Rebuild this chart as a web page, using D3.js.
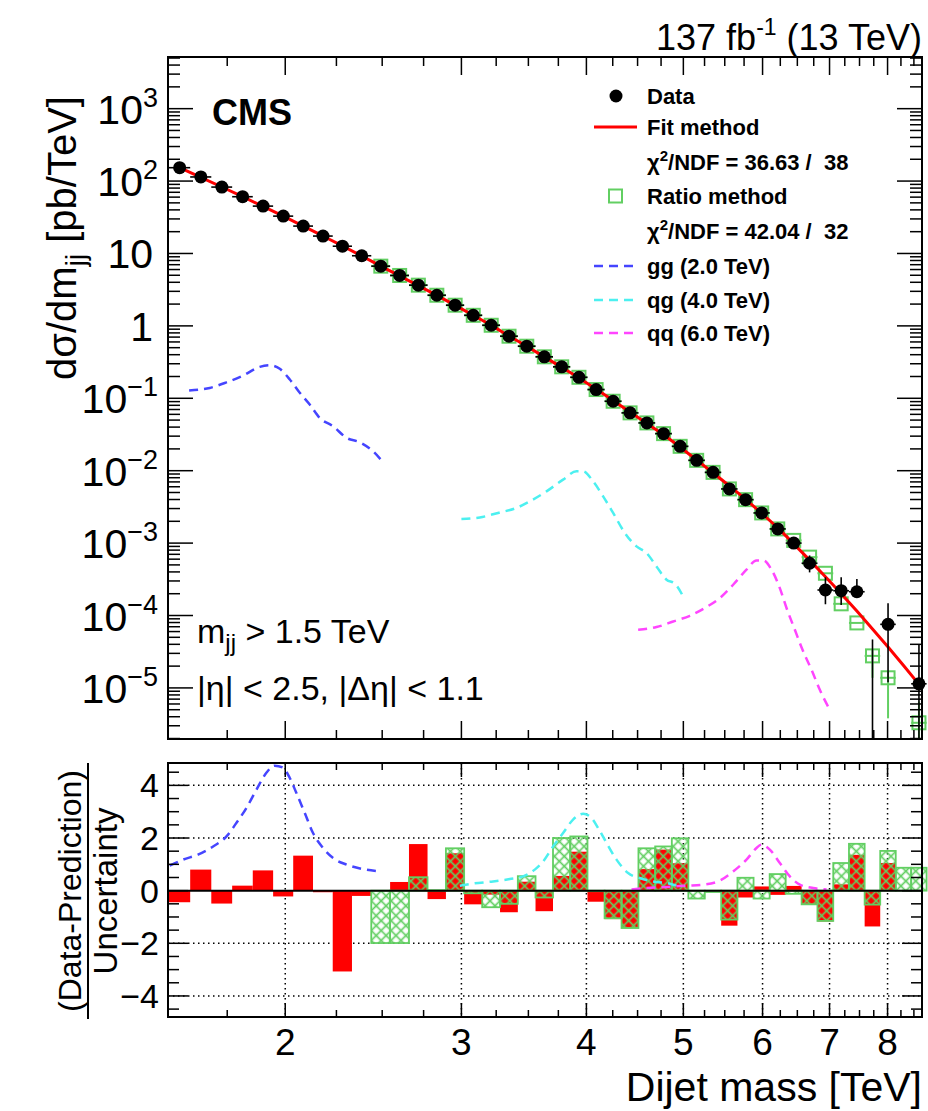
<!DOCTYPE html>
<html>
<head>
<meta charset="utf-8">
<script src="https://cdn.jsdelivr.net/npm/d3@7"></script>
<style>
  body { margin: 0; background: #fff; }
  text { font-family: "Liberation Sans", Arial, Helvetica, sans-serif; fill: #000; white-space: pre; }
</style>
</head>
<body>
<div id="chart"></div>
<script>
// dijet mass bin edges [TeV]
const binEdges = [1.530,1.607,1.687,1.770,1.856,1.945,2.037,2.132,2.231,2.332,2.438,2.546,2.659,2.775,2.895,3.019,3.147,3.279,3.416,3.558,3.704,3.854,4.010,4.171,4.337,4.509,4.686,4.869,5.058,5.253,5.455,5.663,5.877,6.099,6.328,6.564,6.808,7.060,7.320,7.589,7.866,8.152,8.447,8.752]

// data points, pb/TeV (null = no point)
const dataVals = [153,114,82.6,60.8,45.1,32.8,23.9,17.4,12.6,9.30,6.68,4.97,3.65,2.65,1.93,1.40,1.02,0.72,0.524,0.374,0.272,0.195,0.132,0.091,0.0629,0.0457,0.0325,0.0217,0.0139,0.00948,0.0056,0.00398,0.00261,0.00157,0.00100,5.27e-4,2.25e-4,2.20e-4,2.13e-4,null,7.55e-5,null,1.14e-5]
// vertical error bar ends (null = hidden under marker, 0 = down to axis)
const dataErrUp = [null,null,null,null,null,null,null,null,null,null,null,null,null,null,null,null,null,null,null,null,null,null,null,null,null,null,null,null,null,null,null,null,null,null,null,6.75e-4,3.37e-4,3.37e-4,3.19e-4,4.67e-5,1.48e-4,null,3.94e-5]
const dataErrDn = [null,null,null,null,null,null,null,null,null,null,null,null,null,null,null,null,null,null,null,null,null,null,null,null,null,null,null,null,null,null,null,null,null,null,null,3.94e-4,1.43e-4,1.40e-4,1.77e-4,0,1.2e-5,null,0]

// fit method prediction at bin centres
const fitVals = [153.1,112.7,82.8,60.8,44.7,32.7,23.9,17.4,12.7,9.23,6.70,4.90,3.60,2.64,1.92,1.40,1.016,0.726,0.522,0.373,0.267,0.191,0.134,0.0933,0.0646,0.0449,0.0313,0.0211,0.01406,0.00933,0.00617,0.00403,0.00258,0.00162,9.77e-4,5.82e-4,3.43e-4,2.00e-4,1.15e-4,6.53e-5,3.67e-5,2.04e-5,1.12e-5]

// ratio method prediction
const ratioVals = [null,null,null,null,null,null,null,null,null,null,6.68,4.97,3.65,2.65,1.93,1.40,1.02,0.72,0.524,0.374,0.272,0.195,0.132,0.091,0.0629,0.0457,0.0325,0.0217,0.0139,0.00948,0.0056,0.00398,0.00261,0.00157,0.00109,6.4e-4,3.83e-4,1.45e-4,7.9e-5,2.77e-5,1.38e-5,null,3.3e-6]
const ratioErrUp = [null,null,null,null,null,null,null,null,null,null,null,null,null,null,null,null,null,null,null,null,null,null,null,null,null,null,null,null,null,null,null,null,null,null,null,null,null,null,null,3.36e-5,1.7e-5,null,6.5e-6]
const ratioErrDn = [null,null,null,null,null,null,null,null,null,null,null,null,null,null,null,null,null,null,null,null,null,null,null,null,null,null,null,null,null,null,null,null,null,null,null,null,null,null,null,1.38e-5,3.8e-6,null,0]

// (data-prediction)/uncertainty
const fitPull = [-0.44,0.80,-0.49,0.19,0.77,-0.22,1.33,-0.06,-3.07,-0.20,0,0.33,1.77,-0.32,1.42,-0.52,-0.15,-0.82,0.34,-0.78,0.56,1.48,-0.42,-1.08,-1.40,0.82,1.56,1.04,0,0,-1.33,-0.26,0.16,-0.16,0.18,-0.50,-1.17,0.24,1.36,-1.36,1.05,0,0]
const ratioPull = [null,null,null,null,null,null,null,null,null,null,-1.99,-1.99,0.51,0.02,1.61,-0.10,-0.63,-0.50,0.55,-0.26,2.00,2.06,-0.02,-1.05,-1.42,1.61,1.68,1.99,-0.30,-0.05,-1.10,0.49,-0.30,0.63,-0.12,-0.52,-1.15,1.05,1.78,-0.53,1.51,0.87,0.87]

// signal shapes (upper panel)
const ggMass = [1.603,1.681,1.747,1.815,1.886,1.930,1.975,2.021,2.068,2.116,2.165,2.233,2.303,2.374,2.448,2.496]
const ggVals = [0.128,0.139,0.166,0.206,0.272,0.286,0.255,0.182,0.119,0.0819,0.0536,0.0410,0.0284,0.0247,0.0185,0.0139]
const qgMass = [3.000,3.130,3.264,3.405,3.511,3.649,3.791,3.910,3.970,4.062,4.157,4.254,4.370,4.489,4.594,4.700,4.810,4.903,4.998]
const qgVals = [2.15e-3,2.26e-3,2.61e-3,3.06e-3,3.77e-3,5.18e-3,7.52e-3,9.79e-3,9.79e-3,7.13e-3,4.42e-3,2.61e-3,1.38e-3,9.0e-4,7.29e-4,4.76e-4,3.12e-4,2.75e-4,1.83e-4]
const qqMass = [4.506,4.700,4.884,5.075,5.253,5.438,5.607,5.782,5.917,6.008,6.125,6.243,6.340,6.463,6.578,6.716,6.845,7.005]
const qqVals = [6.35e-5,6.92e-5,8.27e-5,9.91e-5,1.27e-4,1.74e-4,2.66e-4,4.29e-4,5.77e-4,5.77e-4,4.29e-4,2.39e-4,1.27e-4,6.35e-5,3.36e-5,1.78e-5,9.4e-6,4.97e-6]

// signal shapes (ratio panel)
const ggPullMass = [1.533,1.581,1.636,1.694,1.747,1.787,1.829,1.872,1.915,1.952,1.990,2.021,2.052,2.092,2.132,2.182,2.233,2.303,2.392,2.486]
const ggPull = [0.95,1.18,1.37,1.68,2.06,2.57,3.14,3.84,4.48,4.75,4.67,4.28,3.71,2.95,2.19,1.62,1.24,0.99,0.82,0.73]
const qgPullMass = [2.989,3.082,3.227,3.353,3.458,3.552,3.621,3.705,3.791,3.879,3.970,4.047,4.109,4.190,4.287,4.403,4.523,4.664,4.810,4.922]
const qgPull = [0.19,0.27,0.35,0.44,0.54,0.80,1.11,1.68,2.19,2.70,2.92,2.76,2.38,1.81,1.18,0.67,0.48,0.35,0.29,0.19]
const qqPullMass = [4.438,4.594,4.810,5.037,5.233,5.438,5.607,5.782,5.917,5.985,6.101,6.243,6.389,6.537,6.741,6.952]
const qqPull = [0.04,0.10,0.14,0.19,0.23,0.38,0.73,1.18,1.62,1.75,1.56,1.05,0.54,0.23,0.10,0.04]

// axis ticks
const xMajor = [2,3,4,5,6,7,8]
const xMinor = [1.75,2.25,2.5,2.75,3.25,3.5,3.75,4.25,4.5,4.75,5.25,5.5,5.75,6.25,6.5,6.75,7.25,7.5,7.75,8.25,8.5]
const yExps = [-5,-4,-3,-2,-1,0,1,2,3]
const pullMajor = [-4,-2,0,2,4]

const legendLabels = ["Data","Fit method","χ²/NDF = 36.63 /  38","Ratio method","χ²/NDF = 42.04 /  32","gg (2.0 TeV)","qg (4.0 TeV)","qq (6.0 TeV)"]

const cBlue = "#4545ff", cCyan = "#4cf0f0", cMag = "#ff45ff", cGreen = "#62cf62", cRed = "#ff0000"

const svg = d3.select("#chart").append("svg")
  .attr("width", 928).attr("height", 1111)
  .style("background", "#fff")

const defs = svg.append("defs")
const pat = defs.append("pattern").attr("id", "hatch")
  .attr("patternUnits", "userSpaceOnUse")
  .attr("width", 7).attr("height", 7)
  .attr("patternTransform", "rotate(45)")
pat.append("line").attr("x1", 3.5).attr("y1", 0).attr("x2", 3.5).attr("y2", 7)
  .attr("stroke", cGreen).attr("stroke-width", 1.7)
pat.append("line").attr("x1", 0).attr("y1", 3.5).attr("x2", 7).attr("y2", 3.5)
  .attr("stroke", cGreen).attr("stroke-width", 1.7)

const x = d3.scaleLog().domain([1.527, 8.66]).range([168, 922])
const y = d3.scaleLog().domain([1.97e-6, 5.17e3]).range([739, 57])
const yr = d3.scaleLinear().domain([-4.8, 4.85]).range([1017, 763])

defs.append("clipPath").attr("id", "clipTop").append("rect")
  .attr("x", 168).attr("y", 57).attr("width", 754).attr("height", 682)
defs.append("clipPath").attr("id", "clipBot").append("rect")
  .attr("x", 168).attr("y", 763).attr("width", 754).attr("height", 254)

const bins = d3.range(binEdges.length - 1).map(i => ({
  i: i, lo: binEdges[i], hi: binEdges[i+1], c: (binEdges[i] + binEdges[i+1]) / 2
}))
const yc = v => y(Math.max(v, 1.97e-6))

//////////////////////////////////////////////////////////////////////////
// upper panel

const upper = svg.append("g")
const sigLine = d3.line().x(d => x(d[0])).y(d => y(d[1])).curve(d3.curveMonotoneX)

const sig = upper.append("g").attr("clip-path", "url(#clipTop)").attr("fill", "none")
  .attr("stroke-width", 2.5).attr("stroke-dasharray", "9,6")
sig.append("path").attr("d", sigLine(d3.zip(ggMass, ggVals))).attr("stroke", cBlue)
sig.append("path").attr("d", sigLine(d3.zip(qgMass, qgVals))).attr("stroke", cCyan)
sig.append("path").attr("d", sigLine(d3.zip(qqMass, qqVals))).attr("stroke", cMag)

// ratio method squares
const rm = bins.filter(d => ratioVals[d.i] != null)
const gRm = upper.append("g").attr("stroke", cGreen).attr("stroke-width", 2)
gRm.selectAll("line.xe").data(rm).join("line")
  .attr("x1", d => x(d.lo)).attr("x2", d => x(d.hi))
  .attr("y1", d => y(ratioVals[d.i])).attr("y2", d => y(ratioVals[d.i]))
gRm.selectAll("line.ye").data(rm.filter(d => ratioErrUp[d.i] != null)).join("line")
  .attr("x1", d => x(d.c)).attr("x2", d => x(d.c))
  .attr("y1", d => yc(ratioErrUp[d.i])).attr("y2", d => yc(ratioErrDn[d.i]))
gRm.selectAll("rect").data(rm).join("rect")
  .attr("x", d => x(d.c) - 6.5).attr("y", d => y(ratioVals[d.i]) - 6.5)
  .attr("width", 13).attr("height", 13)
  .attr("fill", "#fff").attr("fill-opacity", 0)

// fit
upper.append("path")
  .attr("d", d3.line().x(d => x(d.c)).y(d => y(fitVals[d.i])).curve(d3.curveMonotoneX)(bins))
  .attr("fill", "none").attr("stroke", cRed).attr("stroke-width", 3)

// data
const gD = upper.append("g").attr("stroke", "#000").attr("stroke-width", 1.6)
gD.selectAll("line.ye").data(bins.filter(d => dataErrUp[d.i] != null)).join("line")
  .attr("x1", d => x(d.c)).attr("x2", d => x(d.c))
  .attr("y1", d => yc(dataErrUp[d.i])).attr("y2", d => yc(dataErrDn[d.i]))
const dp = bins.filter(d => dataVals[d.i] != null)
gD.selectAll("line.xe").data(dp).join("line")
  .attr("x1", d => x(d.lo)).attr("x2", d => x(d.hi))
  .attr("y1", d => y(dataVals[d.i])).attr("y2", d => y(dataVals[d.i]))
upper.append("g").selectAll("circle").data(dp).join("circle")
  .attr("cx", d => x(d.c)).attr("cy", d => y(dataVals[d.i])).attr("r", 6.5)
  .attr("fill", "#000")

// frame + ticks
function frame(g, x0, y0, w, h) {
  g.append("rect").attr("x", x0).attr("y", y0).attr("width", w).attr("height", h)
    .attr("fill", "none").attr("stroke", "#000").attr("stroke-width", 2)
}
function xTicks(g, yB, yT, majLen, minLen) {
  const t = g.append("g").attr("stroke", "#000").attr("stroke-width", 1.5)
  xMajor.forEach(v => {
    t.append("line").attr("x1", x(v)).attr("x2", x(v)).attr("y1", yB).attr("y2", yB - majLen)
    t.append("line").attr("x1", x(v)).attr("x2", x(v)).attr("y1", yT).attr("y2", yT + majLen)
  })
  xMinor.forEach(v => {
    t.append("line").attr("x1", x(v)).attr("x2", x(v)).attr("y1", yB).attr("y2", yB - minLen)
    t.append("line").attr("x1", x(v)).attr("x2", x(v)).attr("y1", yT).attr("y2", yT + minLen)
  })
}
function yTicks(g, scale, major, minor, majLen, minLen) {
  const t = g.append("g").attr("stroke", "#000").attr("stroke-width", 1.5)
  major.forEach(v => {
    t.append("line").attr("x1", 168).attr("x2", 168 + majLen).attr("y1", scale(v)).attr("y2", scale(v))
    t.append("line").attr("x1", 922).attr("x2", 922 - majLen).attr("y1", scale(v)).attr("y2", scale(v))
  })
  minor.forEach(v => {
    t.append("line").attr("x1", 168).attr("x2", 168 + minLen).attr("y1", scale(v)).attr("y2", scale(v))
    t.append("line").attr("x1", 922).attr("x2", 922 - minLen).attr("y1", scale(v)).attr("y2", scale(v))
  })
}

frame(upper, 168, 57, 754, 682)
xTicks(upper, 739, 57, 18, 9)
const yMinorTop = y.ticks().filter(v => {
  const l = Math.log10(v)
  return Math.abs(l - Math.round(l)) > 1e-6
})
yTicks(upper, y, yExps.map(e => Math.pow(10, e)), yMinorTop, 25, 12)

// y labels
const ylab = upper.append("g").attr("font-size", 41).attr("text-anchor", "end")
yExps.forEach(e => {
  const t = ylab.append("text").attr("x", 158).attr("y", y(Math.pow(10, e)) + 15)
  if (e === 0) t.attr("x", 153).text("1")
  else if (e === 1) t.attr("x", 153).text("10")
  else {
    t.append("tspan").text("10")
    t.append("tspan").attr("font-size", 27).attr("dy", -17)
      .text(e < 0 ? "\u2212" + (-e) : String(e))
  }
})

// y title
const yt = upper.append("text").attr("transform", "translate(76,238) rotate(-90)")
  .attr("text-anchor", "middle").attr("font-size", 40)
yt.append("tspan").text("d\u03c3/dm")
yt.append("tspan").attr("font-size", 28).attr("dy", 9).text("jj")
yt.append("tspan").attr("dy", -9).text(" [pb/TeV]")

// texts
svg.append("text").attr("x", 212).attr("y", 125).attr("font-size", 36)
  .attr("font-weight", "bold").text("CMS")
const lumi = svg.append("text").attr("x", 922).attr("y", 50).attr("font-size", 36)
  .attr("text-anchor", "end")
lumi.append("tspan").text("137 fb")
lumi.append("tspan").attr("font-size", 23).attr("dy", -15).text("-1")
lumi.append("tspan").attr("dy", 15).text(" (13 TeV)")

const cut1 = svg.append("text").attr("x", 197).attr("y", 643).attr("font-size", 34)
cut1.append("tspan").text("m")
cut1.append("tspan").attr("font-size", 24).attr("dy", 8).text("jj")
cut1.append("tspan").attr("dy", -8).text(" > 1.5 TeV")
svg.append("text").attr("x", 197).attr("y", 700).attr("font-size", 34)
  .text("|\u03b7| < 2.5, |\u0394\u03b7| < 1.1")

// legend
const legY = [96, 127, 162, 196, 231, 266, 300, 333]
const leg = svg.append("g")
leg.selectAll("text").data(legendLabels).join("text")
  .attr("x", 647).attr("y", (d, i) => legY[i] + 8)
  .attr("font-size", 22).attr("font-weight", "bold")
  .each(function(d) {
    const s = d3.select(this)
    if (d.startsWith("χ²")) {
      s.append("tspan").text("χ")
      s.append("tspan").attr("font-size", 15).attr("dy", -9).text("2")
      s.append("tspan").attr("dy", 9).text(d.slice(2))
    } else s.text(d)
  })
leg.append("circle").attr("cx", 616).attr("cy", legY[0]).attr("r", 6.5).attr("fill", "#000")
leg.append("line").attr("x1", 594).attr("x2", 637).attr("y1", legY[1]).attr("y2", legY[1])
  .attr("stroke", cRed).attr("stroke-width", 3)
leg.append("rect").attr("x", 609).attr("y", legY[3] - 6.5).attr("width", 13).attr("height", 13)
  .attr("fill", "none").attr("stroke", cGreen).attr("stroke-width", 2)
;[[5, cBlue], [6, cCyan], [7, cMag]].forEach(([k, c]) => {
  leg.append("line").attr("x1", 594).attr("x2", 637).attr("y1", legY[k]).attr("y2", legY[k])
    .attr("stroke", c).attr("stroke-width", 2.5).attr("stroke-dasharray", "9,6")
})

//////////////////////////////////////////////////////////////////////////
// ratio panel

const lower = svg.append("g")

// grid
const grid = lower.append("g").attr("stroke", "#000").attr("stroke-width", 1.5)
  .attr("stroke-dasharray", "1.5,3.5")
xMajor.forEach(v => grid.append("line").attr("x1", x(v)).attr("x2", x(v)).attr("y1", 763).attr("y2", 1017))
;[-4, -2, 2, 4].forEach(v => grid.append("line").attr("x1", 168).attr("x2", 922).attr("y1", yr(v)).attr("y2", yr(v)))

const barRect = (sel, vals) => sel
  .attr("x", d => x(d.lo)).attr("width", d => x(d.hi) - x(d.lo))
  .attr("y", d => Math.min(yr(0), yr(vals[d.i])))
  .attr("height", d => Math.abs(yr(vals[d.i]) - yr(0)))

barRect(lower.append("g").selectAll("rect").data(bins.filter(d => fitPull[d.i] !== 0)).join("rect"), fitPull)
  .attr("fill", cRed)

barRect(lower.append("g").selectAll("rect").data(bins.filter(d => ratioPull[d.i] != null)).join("rect"), ratioPull)
  .attr("fill", "url(#hatch)").attr("stroke", cGreen).attr("stroke-width", 1.8)

const sigR = lower.append("g").attr("clip-path", "url(#clipBot)").attr("fill", "none")
  .attr("stroke-width", 2.5).attr("stroke-dasharray", "9,6")
const pullLine = d3.line().x(d => x(d[0])).y(d => yr(d[1])).curve(d3.curveMonotoneX)
sigR.append("path").attr("d", pullLine(d3.zip(ggPullMass, ggPull))).attr("stroke", cBlue)
sigR.append("path").attr("d", pullLine(d3.zip(qgPullMass, qgPull))).attr("stroke", cCyan)
sigR.append("path").attr("d", pullLine(d3.zip(qqPullMass, qqPull))).attr("stroke", cMag)

lower.append("line").attr("x1", 168).attr("x2", 922).attr("y1", yr(0)).attr("y2", yr(0))
  .attr("stroke", "#000").attr("stroke-width", 2)

frame(lower, 168, 763, 754, 254)
xTicks(lower, 1017, 763, 14, 7)
yTicks(lower, yr, pullMajor, d3.range(-4.5, 4.6, 0.5).filter(v => v % 2 !== 0), 20, 11)

lower.append("g").attr("font-size", 34).attr("text-anchor", "end")
  .selectAll("text").data(pullMajor).join("text")
  .attr("x", 159).attr("y", d => yr(d) + 12)
  .text(d => d < 0 ? "\u2212" + (-d) : d)

lower.append("g").attr("font-size", 37).attr("text-anchor", "middle")
  .selectAll("text").data(xMajor).join("text")
  .attr("x", d => x(d)).attr("y", 1055).text(d => d)

svg.append("text").attr("x", 922).attr("y", 1101).attr("text-anchor", "end")
  .attr("font-size", 41).text("Dijet mass [TeV]")

const rt = lower.append("g").attr("transform", "translate(0,891) rotate(-90)")
rt.append("text").attr("x", 0).attr("y", 81).attr("text-anchor", "middle")
  .attr("font-size", 32).text("(Data-Prediction)")
rt.append("line").attr("x1", -128).attr("x2", 128).attr("y1", 88).attr("y2", 88)
  .attr("stroke", "#000").attr("stroke-width", 2)
rt.append("text").attr("x", 0).attr("y", 117).attr("text-anchor", "middle")
  .attr("font-size", 33).text("Uncertainty")
</script>
</body>
</html>
